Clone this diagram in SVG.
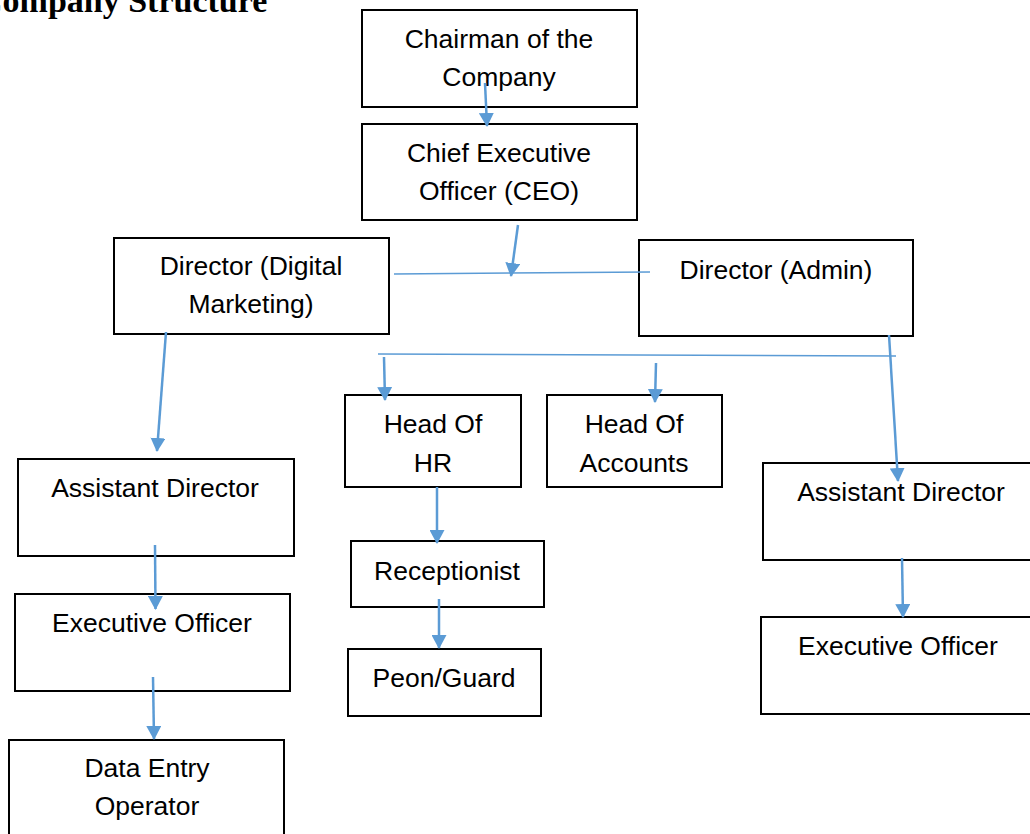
<svg xmlns="http://www.w3.org/2000/svg" width="1030" height="834" viewBox="0 0 1030 834">
<style>
.box{fill:#fff;stroke:#000;stroke-width:2}
.t{font-family:"Liberation Sans",Arial,sans-serif;font-size:26.5px;fill:#000;text-anchor:middle}
.arr{stroke:#5B9BD5;stroke-width:2.5;fill:none;marker-end:url(#ah)}
.ln{stroke:#5B9BD5;stroke-width:1.5;fill:none}
</style>
<defs>
<marker id="ah" markerUnits="userSpaceOnUse" markerWidth="14" markerHeight="15" refX="13" refY="7.5" orient="auto">
<path d="M0,0 L14,7.5 L0,15 z" fill="#5B9BD5"/>
</marker>
</defs>
<rect width="1030" height="834" fill="#fff"/>
<text x="-22" y="12" font-family="'Liberation Serif','Times New Roman',serif" font-weight="bold" font-size="34" fill="#000">Company Structure</text>

<g id="chairman"><rect class="box" x="362" y="10" width="275" height="97"/><text class="t" x="499" y="48">Chairman of the</text><text class="t" x="499" y="86">Company</text></g>
<g id="ceo"><rect class="box" x="362" y="124" width="275" height="96"/><text class="t" x="499" y="162">Chief Executive</text><text class="t" x="499" y="200">Officer (CEO)</text></g>
<g id="dir-digital"><rect class="box" x="114" y="238" width="275" height="96"/><text class="t" x="251" y="275">Director (Digital</text><text class="t" x="251" y="313">Marketing)</text></g>
<g id="dir-admin"><rect class="box" x="639" y="240" width="274" height="96"/><text class="t" x="776" y="279">Director (Admin)</text></g>
<g id="head-hr"><rect class="box" x="345" y="395" width="176" height="92"/><text class="t" x="433" y="433">Head Of</text><text class="t" x="433" y="472">HR</text></g>
<g id="head-acc"><rect class="box" x="547" y="395" width="175" height="92"/><text class="t" x="634" y="433">Head Of</text><text class="t" x="634" y="472">Accounts</text></g>
<g id="receptionist"><rect class="box" x="351" y="541" width="193" height="66"/><text class="t" x="447" y="580">Receptionist</text></g>
<g id="peon"><rect class="box" x="348" y="649" width="193" height="67"/><text class="t" x="444" y="687">Peon/Guard</text></g>
<g id="ad-left"><rect class="box" x="18" y="459" width="276" height="97"/><text class="t" x="155" y="497">Assistant Director</text></g>
<g id="eo-left"><rect class="box" x="15" y="594" width="275" height="97"/><text class="t" x="152" y="632">Executive Officer</text></g>
<g id="deo"><rect class="box" x="9" y="740" width="275" height="110"/><text class="t" x="147" y="777">Data Entry</text><text class="t" x="147" y="815">Operator</text></g>
<g id="ad-right"><rect class="box" x="763" y="463" width="290" height="97"/><text class="t" x="901" y="501">Assistant Director</text></g>
<g id="eo-right"><rect class="box" x="761" y="617" width="290" height="97"/><text class="t" x="898" y="655">Executive Officer</text></g>

<g id="connectors">
<line class="arr" x1="485" y1="83" x2="487" y2="126"/>
<line class="arr" x1="518" y1="225" x2="511" y2="276"/>
<line class="ln" x1="394" y1="274" x2="650" y2="272"/>
<line class="ln" x1="378" y1="354" x2="896" y2="356"/>
<line class="arr" x1="384" y1="357" x2="385" y2="400"/>
<line class="arr" x1="656" y1="363" x2="655" y2="402"/>
<line class="arr" x1="889" y1="335" x2="898" y2="481"/>
<line class="arr" x1="902" y1="558" x2="903" y2="617"/>
<line class="arr" x1="437" y1="487" x2="437" y2="543"/>
<line class="arr" x1="439" y1="599" x2="439" y2="648"/>
<line class="arr" x1="166" y1="332" x2="157" y2="451"/>
<line class="arr" x1="155" y1="545" x2="155.5" y2="609"/>
<line class="arr" x1="153" y1="677" x2="154" y2="739"/>
</g>
</svg>
